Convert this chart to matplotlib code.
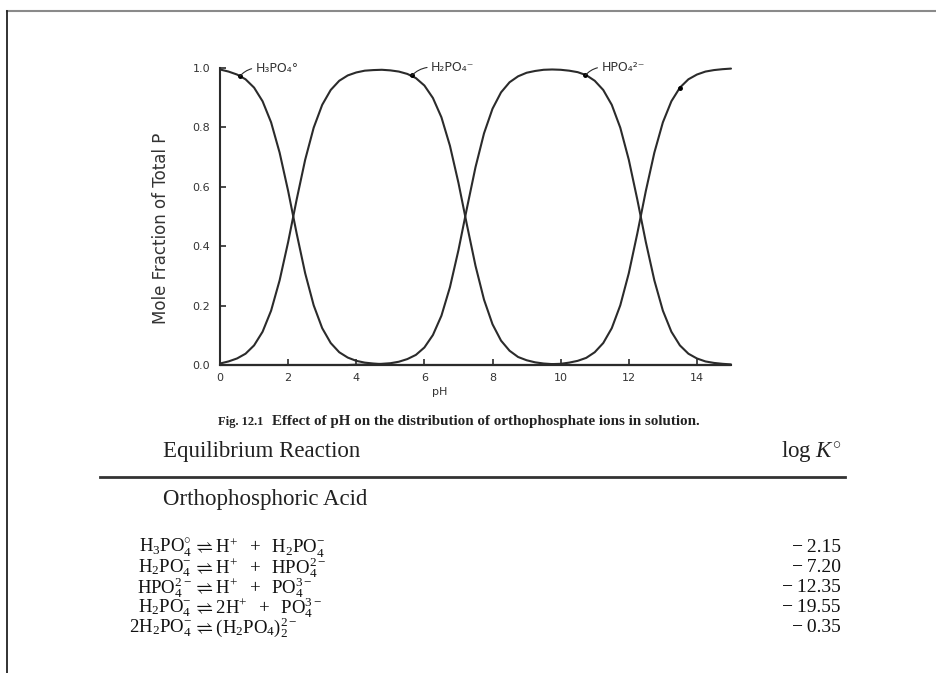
import matplotlib
matplotlib.use('Agg')
import matplotlib.pyplot as plt
from matplotlib.lines import Line2D

plt.rcParams['font.family'] = ['DejaVu Sans']
plt.rcParams['mathtext.fontset'] = 'custom'
plt.rcParams['mathtext.rm'] = 'Liberation Serif'
plt.rcParams['mathtext.it'] = 'Liberation Serif:italic'
plt.rcParams['mathtext.bf'] = 'Liberation Serif:bold'

# ---------------- data ----------------
ph = [0, 0.25, 0.5, 0.75, 1, 1.25, 1.5, 1.75, 2, 2.25, 2.5, 2.75, 3, 3.25, 3.5, 3.75,
      4, 4.25, 4.5, 4.75, 5, 5.25, 5.5, 5.75, 6, 6.25, 6.5, 6.75, 7, 7.25, 7.5, 7.75,
      8, 8.25, 8.5, 8.75, 9, 9.25, 9.5, 9.75, 10, 10.25, 10.5, 10.75, 11, 11.25, 11.5, 11.75,
      12, 12.25, 12.5, 12.75, 13, 13.25, 13.5, 13.75, 14, 14.25, 14.5, 14.75, 15]

frac_h3po4 = [0.995, 0.988, 0.978, 0.962, 0.934, 0.888, 0.817, 0.715, 0.586, 0.443, 0.309, 0.201,
              0.124, 0.074, 0.043, 0.025, 0.014, 0.008, 0.005, 0.003, 0.001, 0.0, 0.0, 0.0,
              0.0, 0.0, 0.0, 0.0, 0.0, 0.0, 0.0, 0.0, 0.0, 0.0, 0.0, 0.0, 0.0, 0.0, 0.0, 0.0,
              0.0, 0.0, 0.0, 0.0, 0.0, 0.0, 0.0, 0.0, 0.0, 0.0, 0.0, 0.0, 0.0, 0.0, 0.0, 0.0,
              0.0, 0.0, 0.0, 0.0, 0.0]

frac_h2po4 = [0.005, 0.012, 0.022, 0.038, 0.066, 0.112, 0.183, 0.285, 0.414, 0.557, 0.691, 0.799,
              0.876, 0.926, 0.957, 0.975, 0.985, 0.991, 0.993, 0.994, 0.992, 0.988, 0.980, 0.966,
              0.941, 0.899, 0.834, 0.738, 0.613, 0.471, 0.334, 0.220, 0.137, 0.082, 0.048, 0.027,
              0.016, 0.009, 0.005, 0.003, 0.002, 0.0, 0.0, 0.0, 0.0, 0.0, 0.0, 0.0,
              0.0, 0.0, 0.0, 0.0, 0.0, 0.0, 0.0, 0.0, 0.0, 0.0, 0.0, 0.0, 0.0]

frac_hpo4 = [0.0, 0.0, 0.0, 0.0, 0.0, 0.0, 0.0, 0.0, 0.0, 0.0, 0.0, 0.0, 0.0, 0.0, 0.0, 0.0,
             0.001, 0.001, 0.002, 0.004, 0.006, 0.011, 0.020, 0.034, 0.059, 0.101, 0.166, 0.262,
             0.387, 0.529, 0.666, 0.780, 0.863, 0.918, 0.952, 0.972, 0.984, 0.990, 0.994, 0.995,
             0.994, 0.991, 0.986, 0.976, 0.957, 0.926, 0.876, 0.799, 0.691, 0.557, 0.414, 0.285,
             0.183, 0.112, 0.066, 0.038, 0.022, 0.012, 0.007, 0.004, 0.002]

frac_po4 = [0.0, 0.0, 0.0, 0.0, 0.0, 0.0, 0.0, 0.0, 0.0, 0.0, 0.0, 0.0, 0.0, 0.0, 0.0, 0.0,
            0.0, 0.0, 0.0, 0.0, 0.0, 0.0, 0.0, 0.0, 0.0, 0.0, 0.0, 0.0, 0.0, 0.0, 0.0, 0.0,
            0.0, 0.0, 0.0, 0.0, 0.0, 0.0, 0.001, 0.003, 0.004, 0.008, 0.014, 0.024, 0.043, 0.074,
            0.124, 0.201, 0.309, 0.443, 0.586, 0.715, 0.817, 0.888, 0.934, 0.962, 0.978, 0.988,
            0.993, 0.996, 0.998]

species_labels = ['H\u2083PO\u2084\u00b0', 'H\u2082PO\u2084\u207b', 'HPO\u2084\u00b2\u207b']
label_dot_ph = [0.58, 5.63, 10.72, 13.5]
label_dot_frac = [0.972, 0.975, 0.975, 0.934]

x_ticks = [0, 2, 4, 6, 8, 10, 12, 14]
y_ticks = [0.0, 0.2, 0.4, 0.6, 0.8, 1.0]

reaction_left = [r'$\mathrm{H_3PO_4^{\circ}}$',
                 r'$\mathrm{H_2PO_4^{-}}$',
                 r'$\mathrm{HPO_4^{2-}}$',
                 r'$\mathrm{H_2PO_4^{-}}$',
                 r'$\mathrm{2H_2PO_4^{-}}$']
reaction_right = [r'$\rightleftharpoons\mathrm{H^{+}\ \ +\ \ H_2PO_4^{-}}$',
                  r'$\rightleftharpoons\mathrm{H^{+}\ \ +\ \ HPO_4^{2-}}$',
                  r'$\rightleftharpoons\mathrm{H^{+}\ \ +\ \ PO_4^{3-}}$',
                  r'$\rightleftharpoons\mathrm{2H^{+}\ \ +\ \ PO_4^{3-}}$',
                  r'$\rightleftharpoons\mathrm{(H_2PO_4)_2^{2-}}$']
log_k = [-2.15, -7.20, -12.35, -19.55, -0.35]

# ---------------- figure ----------------
W, H = 936, 673
fig = plt.figure(figsize=(W / 100, H / 100), dpi=100)
fig.patch.set_facecolor('white')


def fx(x):
    return x / W


def fy(y):
    return 1 - y / H


# frame lines of the scanned page
fig.add_artist(Line2D([fx(7), fx(936)], [fy(11), fy(11)], color='#8a8a8a', lw=1.5))
fig.add_artist(Line2D([fx(7), fx(7)], [fy(11), fy(673)], color='#222222', lw=1.3))

ink = '#2b2b2b'
ax = fig.add_axes([fx(220), fy(365), (731 - 220) / W, (365 - 68) / H])
for series in (frac_h3po4, frac_h2po4, frac_hpo4, frac_po4):
    ax.plot(ph, series, color=ink, lw=1.5, clip_on=False, solid_capstyle='round')

ax.set_xlim(0, 15)
ax.set_ylim(0, 1.0)
ax.spines['top'].set_visible(False)
ax.spines['right'].set_visible(False)
for s in ('left', 'bottom'):
    ax.spines[s].set_color(ink)
    ax.spines[s].set_linewidth(1.5)
ax.set_xticks(x_ticks)
ax.set_xticklabels([str(t) for t in x_ticks])
ax.set_yticks(y_ticks)
ax.set_yticklabels([f'{t:.1f}' for t in y_ticks])
ax.tick_params(direction='in', length=4, width=1.2, color=ink, labelsize=8,
               labelcolor='#333333')
ax.tick_params(axis='y', pad=7)
ax.tick_params(axis='x', pad=6)
ax.set_xlabel('pH', fontsize=8, color='#333333')
ax.xaxis.set_label_coords(0.43, -0.075)
ax.set_ylabel('Mole Fraction of Total P', fontsize=12, color='#333333')
ax.yaxis.set_label_coords(-0.098, 0.46)

# species labels with leader lines
text_pos = [(1.05, 1.0), (6.2, 1.003), (11.2, 1.003)]
for lab, dx, dy, (tx, ty) in zip(species_labels, label_dot_ph, label_dot_frac, text_pos):
    ax.annotate(lab, xy=(dx, dy), xytext=(tx, ty), ha='left', va='center',
                fontsize=9, color='#333333', annotation_clip=False,
                arrowprops=dict(arrowstyle='-', lw=0.8, color=ink, shrinkA=1, shrinkB=0,
                                relpos=(0, 0.5), connectionstyle='arc3,rad=0.2'))
ax.plot(label_dot_ph, label_dot_frac, 'o', ms=2.5, color='black', clip_on=False)

# caption
fig.text(fx(218), fy(422), 'Fig. 12.1', fontsize=9, fontweight='bold',
         family='Liberation Serif', va='center', ha='left', color='#222222')
fig.text(fx(272), fy(422), 'Effect of pH on the distribution of orthophosphate ions in solution.',
         fontsize=10.8, fontweight='bold', family='Liberation Serif',
         va='center', ha='left', color='#222222')

# table
serif = 'Liberation Serif'
fig.text(fx(163), fy(452), 'Equilibrium Reaction', fontsize=16.5, family=serif,
         va='center', ha='left', color='#222222')
fig.text(fx(842), fy(452), r'log $\mathit{K}^{\circ}$', fontsize=16.5, family=serif,
         va='center', ha='right', color='#222222')
fig.add_artist(Line2D([fx(100), fx(845)], [fy(477), fy(477)], color='#333333', lw=2))
fig.text(fx(163), fy(499), 'Orthophosphoric Acid', fontsize=16.5, family=serif,
         va='center', ha='left', color='#222222')

row_y = [548, 568, 588, 608, 628]
x_eq = 192
for left, right, k, y in zip(reaction_left, reaction_right, log_k, row_y):
    fig.text(fx(x_eq), fy(y), left, fontsize=13.5, family=serif, va='center', ha='right',
             color='#111111')
    fig.text(fx(x_eq + 1), fy(y), right, fontsize=13.5, family=serif, va='center', ha='left',
             color='#111111')
    fig.text(fx(841), fy(y), f'{k:.2f}'.replace('-', '\u2212\u2009'), fontsize=14,
             family=serif, va='center', ha='right', color='#111111')

fig.savefig('out.png', dpi=100, facecolor='white')
